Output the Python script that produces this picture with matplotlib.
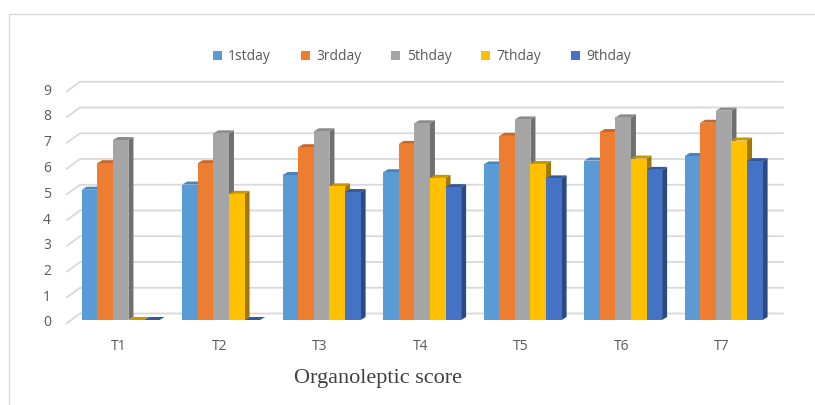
import matplotlib
matplotlib.use("Agg")
import matplotlib.pyplot as plt
from matplotlib.patches import Polygon, Rectangle
from matplotlib.lines import Line2D
from matplotlib.transforms import IdentityTransform
import numpy as np

# Organoleptic scores per treatment and storage day
treatments = ["T1", "T2", "T3", "T4", "T5", "T6", "T7"]
series_names = ["1stday", "3rdday", "5thday", "7thday", "9thday"]
day1 = [5.06, 5.26, 5.63, 5.74, 6.04, 6.19, 6.37]
day3 = [6.09, 6.09, 6.71, 6.84, 7.15, 7.30, 7.66]
day5 = [6.99, 7.25, 7.33, 7.64, 7.79, 7.87, 8.13]
day7 = [0.00, 4.90, 5.19, 5.52, 6.06, 6.27, 6.97]
day9 = [0.00, 0.00, 4.97, 5.16, 5.50, 5.83, 6.17]
yticks = list(range(0, 10))

series = [day1, day3, day5, day7, day9]
front_colors = ["#5B9BD5", "#ED7D31", "#A5A5A5", "#FFC000", "#4472C4"]
top_colors = ["#4A84BC", "#C9662A", "#8C8C8C", "#C99700", "#36599A"]
side_colors = ["#3F6F9E", "#A9561F", "#707070", "#A07A00", "#2C4A82"]

W, H, DPI = 815, 405, 100
fig = plt.figure(figsize=(W / DPI, H / DPI), dpi=DPI)
fig.patch.set_facecolor("white")

text_color = "#595959"
font = ["Open Sans", "DejaVu Sans"]

# axes in the plane of the bar fronts (pixel layout)
ax_left, ax_right = 67, 770
ax_bottom_top = 320          # y of value 0 from the top edge
unit = 25.75                 # pixels per score unit
ax = fig.add_axes([ax_left / W, (H - ax_bottom_top) / H,
                   (ax_right - ax_left) / W, 9 * unit / H])
ax.set_ylim(0, 9)
ax.set_xlim(-0.534, 6.461)
ax.axis("off")

n = len(series)
bw = 0.155
x = np.arange(len(treatments))
offsets = (np.arange(n) - (n - 1) / 2) * bw

# bar depth (pixels) and wall depth (pixels)
bdx, bdy = 5, 3
wall_dx, wall_up, wall_down = 13, 6.5, 3

to_disp = ax.transData.transform
pix = IdentityTransform()

# back-wall gridlines with a slanted side-wall segment, plus tick labels
for v in yticks:
    x0, y0 = to_disp((ax.get_xlim()[0], v))
    x1, _ = to_disp((ax.get_xlim()[1], v))
    xs = [x0, x0 + wall_dx, x1 + wall_dx]
    ys = [y0 - wall_down, y0 + wall_up, y0 + wall_up]
    ax.add_line(Line2D(xs, ys, transform=pix, color="#D9D9D9", lw=1.3,
                       zorder=0, clip_on=False))
    ax.annotate(str(v), (ax.get_xlim()[0], v), xytext=(-16, -wall_down),
                textcoords="offset pixels", ha="right", va="center",
                fontsize=10, color=text_color, family=font,
                annotation_clip=False)

# bars: front face from ax.bar, top and side faces drawn from its corners
z = 2
for gi in range(len(treatments)):
    for si in range(n):
        val = series[si][gi]
        xc = x[gi] + offsets[si]
        xa, yb = to_disp((xc - bw / 2, 0))
        xb, yt = to_disp((xc + bw / 2, val))
        top = [(xa, yt), (xb, yt), (xb + bdx, yt + bdy), (xa + bdx, yt + bdy)]
        side = [(xb, yb), (xb + bdx, yb + bdy), (xb + bdx, yt + bdy), (xb, yt)]
        for poly, col in ((side, side_colors[si]), (top, top_colors[si])):
            ax.add_patch(Polygon(poly, closed=True, transform=pix,
                                 facecolor=col, edgecolor="none", zorder=z,
                                 clip_on=False))
        ax.bar(xc, val, width=bw, color=front_colors[si], zorder=z + 1,
               linewidth=0, clip_on=False)
        z += 2

# category labels
for gi, t in enumerate(treatments):
    ax.annotate(t, (x[gi], 0), xytext=(-2, -27), textcoords="offset pixels",
                ha="center", va="center", fontsize=10, color=text_color,
                family=font, annotation_clip=False)

# legend
handles = [Rectangle((0, 0), 1, 1, facecolor=c, edgecolor="none")
           for c in front_colors]
leg = fig.legend(handles, series_names, loc="center",
                 bbox_to_anchor=(422 / W, 1 - 57 / H), ncol=5, frameon=False,
                 handlelength=0.65, handleheight=0.65, handletextpad=0.45,
                 columnspacing=2.15, prop={"family": font, "size": 10})
for t in leg.get_texts():
    t.set_color(text_color)

fig.text(378 / W, 1 - 379 / H, "Organoleptic score", ha="center", va="center",
         family=["Liberation Serif", "DejaVu Serif"], fontsize=16,
         color="#404040")

# chart border
fig.patches.append(Rectangle((9 / W, -0.05), 1.0, 1 - 14 / H + 0.05,
                             transform=fig.transFigure, fill=False,
                             edgecolor="#D9D9D9", lw=1.0, zorder=0))

fig.savefig("out.png", dpi=DPI, facecolor="white")
